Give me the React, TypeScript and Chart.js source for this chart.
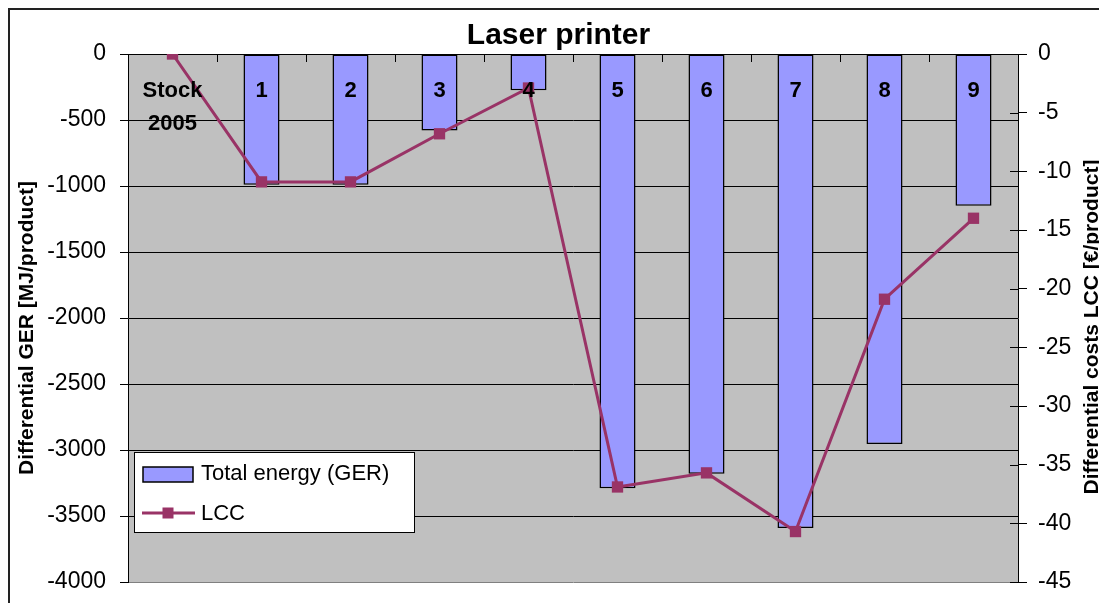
import React, { useEffect, useRef } from "react";
import { Chart, registerables } from "chart.js";

Chart.register(...registerables);

const FONT = "'Liberation Sans', Arial, Helvetica, sans-serif";

// ---- data ----
const categories: (string | string[])[] = [["Stock", "2005"], "1", "2", "3", "4", "5", "6", "7", "8", "9"];
const gerValues = [0, -990, -990, -580, -275, -3290, -3180, -3590, -2955, -1150];
const lccValues = [0, -10.9, -10.9, -6.8, -2.9, -36.9, -35.7, -40.7, -20.9, -14.0];
const gerAxis = { min: -4000, max: 0, step: 500 };
const lccAxis = { min: -45, max: 0, step: 5 };
const titleText = "Laser printer";
const leftTitle = "Differential GER [MJ/product]";
const rightTitle = "Differential costs LCC [€/product]";
const gerLabel = "Total energy (GER)";
const lccLabel = "LCC";

const BAR_COLOR = "#9999FF";
const LINE_COLOR = "#993366";
const PLOT_BG = "#C0C0C0";

const decorPlugin = {
  id: "decor",
  beforeDraw(chart: any) {
    const { ctx, chartArea: a } = chart;
    ctx.save();
    ctx.fillStyle = PLOT_BG;
    ctx.fillRect(a.left, a.top, a.right - a.left, a.bottom - a.top);
    ctx.restore();
  },
  afterDraw(chart: any) {
    const { ctx, chartArea: a } = chart;
    const xs = chart.scales.x;
    const y1 = chart.scales.y1;
    ctx.save();

    // x tick marks (inward from top axis line) between categories
    ctx.strokeStyle = "#000";
    ctx.lineWidth = 1;
    const n = categories.length;
    for (let i = 1; i < n; i++) {
      const x = Math.round((xs.getPixelForValue(i - 1) + xs.getPixelForValue(i)) / 2) + 0.5;
      ctx.beginPath();
      ctx.moveTo(x, a.top);
      ctx.lineTo(x, a.top + 8);
      ctx.stroke();
    }
    // inward part of right-axis tick marks
    y1.ticks.forEach((t: any) => {
      const y = Math.round(y1.getPixelForValue(t.value)) + 0.5;
      ctx.beginPath();
      ctx.moveTo(a.right - 8, y);
      ctx.lineTo(a.right, y);
      ctx.stroke();
    });

    // category labels inside the plot near the top
    ctx.fillStyle = "#000";
    ctx.font = `bold 22px ${FONT}`;
    ctx.textAlign = "center";
    ctx.textBaseline = "middle";
    categories.forEach((c, i) => {
      const x = xs.getPixelForValue(i);
      const lines = Array.isArray(c) ? c : [c];
      lines.forEach((l, j) => ctx.fillText(l, x, a.top + 37 + j * 33));
    });

    // axis titles (both rotated -90deg)
    ctx.font = `bold 21px ${FONT}`;
    ctx.save();
    ctx.translate(17.5, 318);
    ctx.rotate(-Math.PI / 2);
    ctx.fillText(leftTitle, 0, 0);
    ctx.restore();
    ctx.save();
    ctx.translate(1082, 317);
    ctx.rotate(-Math.PI / 2);
    ctx.fillText(rightTitle, 0, 0);
    ctx.restore();

    // legend
    const lx = 124, ly = 442, lw = 280, lh = 80;
    ctx.fillStyle = "#fff";
    ctx.fillRect(lx, ly, lw, lh);
    ctx.strokeStyle = "#000";
    ctx.lineWidth = 1;
    ctx.strokeRect(lx + 0.5, ly + 0.5, lw, lh);
    // bar swatch
    ctx.fillStyle = BAR_COLOR;
    ctx.fillRect(133, 457, 50, 15);
    ctx.lineWidth = 1.5;
    ctx.strokeRect(133, 457, 50, 15);
    // line swatch
    ctx.strokeStyle = LINE_COLOR;
    ctx.lineWidth = 3;
    ctx.beginPath();
    ctx.moveTo(132, 503);
    ctx.lineTo(185, 503);
    ctx.stroke();
    ctx.fillStyle = LINE_COLOR;
    ctx.fillRect(158 - 5.5, 503 - 5.5, 11, 11);
    // legend texts
    ctx.fillStyle = "#000";
    ctx.font = `22px ${FONT}`;
    ctx.textAlign = "left";
    ctx.fillText(gerLabel, 191, 464);
    ctx.fillText(lccLabel, 191, 504);

    ctx.restore();
  },
};

export default function App() {
  const ref = useRef<HTMLCanvasElement>(null);
  useEffect(() => {
    const chart = new Chart(ref.current as HTMLCanvasElement, {
      type: "bar",
      data: {
        labels: categories,
        datasets: [
          {
            type: "line",
            label: lccLabel,
            data: lccValues,
            yAxisID: "y1",
            borderColor: LINE_COLOR,
            backgroundColor: LINE_COLOR,
            borderWidth: 3,
            pointStyle: "rect",
            pointRadius: 8,
            pointBackgroundColor: LINE_COLOR,
            pointBorderColor: LINE_COLOR,
            pointBorderWidth: 0,
            tension: 0,
            order: 0,
          } as any,
          {
            type: "bar",
            label: gerLabel,
            data: gerValues,
            yAxisID: "y",
            backgroundColor: BAR_COLOR,
            borderColor: "#000",
            borderWidth: 1.5,
            borderSkipped: false,
            categoryPercentage: 1,
            barPercentage: 0.405,
            order: 1,
          } as any,
        ],
      },
      options: {
        animation: false,
        responsive: false,
        maintainAspectRatio: false,
        layout: { padding: { left: 0, right: 0, top: 0, bottom: 21 } },
        font: { family: FONT } as any,
        plugins: {
          legend: { display: false },
          tooltip: { enabled: false },
          title: {
            display: true,
            text: titleText,
            color: "#000",
            font: { family: FONT, size: 30, weight: "bold" },
            padding: { top: 7.5, bottom: 0.5 },
          },
        },
        scales: {
          x: { display: false },
          y: {
            position: "left",
            min: gerAxis.min,
            max: gerAxis.max,
            ticks: {
              stepSize: gerAxis.step,
              color: "#000",
              font: { family: FONT, size: 23 },
              padding: 14,
              callback: (v: any) => String(v),
            },
            grid: {
              color: (c: any) => (c.tick && c.tick.value === gerAxis.min ? "#808080" : "#000"),
              tickColor: "#000",
              tickLength: 8,
              lineWidth: 1,
            },
            border: { color: "#000", width: 1 },
            afterFit: (s: any) => {
              s.width = 118;
              s.paddingBottom = 0;
              s.paddingTop = 0;
            },
          },
          y1: {
            position: "right",
            min: lccAxis.min,
            max: lccAxis.max,
            ticks: {
              stepSize: lccAxis.step,
              color: "#000",
              font: { family: FONT, size: 23 },
              padding: 11,
              callback: (v: any) => String(v),
            },
            grid: { drawOnChartArea: false, color: "#000", tickLength: 9 },
            border: { color: "#000", width: 1 },
            afterFit: (s: any) => {
              s.width = 89;
              s.paddingBottom = 0;
              s.paddingTop = 0;
            },
          },
        },
      } as any,
      plugins: [decorPlugin],
    });
    return () => chart.destroy();
  }, []);

  return (
    <div
      style={{
        width: 1099,
        height: 595,
        boxSizing: "border-box",
        borderTop: "2px solid #222",
        borderLeft: "2px solid #222",
        background: "#fff",
        overflow: "hidden",
      }}
    >
      <canvas ref={ref} width={1097} height={593} style={{ display: "block" }} />
    </div>
  );
}
